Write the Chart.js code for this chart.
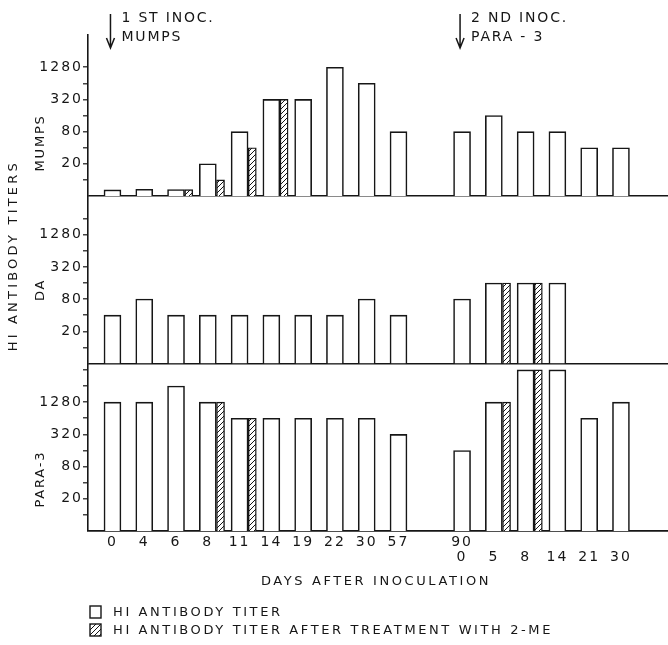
<!DOCTYPE html>
<html>
<head>
<meta charset="utf-8">
<script src="https://cdn.jsdelivr.net/npm/chart.js@4.4.0/dist/chart.umd.min.js"></script>
<style>
  html, body { margin: 0; padding: 0; background: #fff; }
</style>
</head>
<body>
<canvas id="titers" width="668" height="645"></canvas>
<script>
// day labels: first row = days after 1st inoculation, second row = after 2nd
const daysRow1 = ['0', '4', '6', '8', '11', '14', '19', '22', '30', '57', '', '90', '', '', '', '', ''];
const daysRow2 = ['', '', '', '', '', '', '', '', '', '', '', '0', '5', '8', '14', '21', '30'];

// HI antibody titers (null = no bar)
const mumpsTiter    = [6.5, 6.7, 6.6, 20, 80, 320, 320, 1280, 640, 80, null, 80, 160, 80, 80, 40, 40];
const mumpsTiter2ME = [null, null, 6.6, 10, 40, 320, null, null, null, null, null, null, null, null, null, null, null];
const daTiter       = [40, 80, 40, 40, 40, 40, 40, 40, 80, 40, null, 80, 160, 160, 160, null, null];
const daTiter2ME    = [null, null, null, null, null, null, null, null, null, null, null, null, 160, 160, null, null, null];
const paraTiter     = [1280, 1280, 2560, 1280, 640, 640, 640, 640, 640, 320, null, 160, 1280, 5120, 5120, 640, 1280];
const paraTiter2ME  = [null, null, null, 1280, 640, null, null, null, null, null, null, null, 1280, 5120, null, null, null];

const titerTicks = [5, 10, 20, 40, 80, 160, 320, 640, 1280, 2560, 5120];
const titerLabels = [20, 80, 320, 1280];
const panelNames = ['MUMPS', 'DA', 'PARA-3'];

const INK = '#161616';
const FONT = '"DejaVu Sans", sans-serif';
const X_MIN = -0.77, X_MAX = 17.48;
const HATCH_SHIFT = 0.4; // 2-ME bar sits just right of the plain bar

const canvas = document.getElementById('titers');
const ctx = canvas.getContext('2d');

function makeHatch() {
    const tile = document.createElement('canvas');
    tile.width = 5;
    tile.height = 5;
    const g = tile.getContext('2d');
    g.fillStyle = '#fff';
    g.fillRect(0, 0, 5, 5);
    g.strokeStyle = INK;
    g.lineWidth = 1;
    g.beginPath();
    g.moveTo(0, 5); g.lineTo(5, 0);
    g.moveTo(-1, 1); g.lineTo(1, -1);
    g.moveTo(4, 6); g.lineTo(6, 4);
    g.stroke();
    return ctx.createPattern(tile, 'repeat');
}
const hatch = makeHatch();

function plainBars(data, yAxisID) {
    return {
        data, yAxisID, xAxisID: 'x',
        backgroundColor: '#fff', borderColor: INK, borderWidth: 1.6,
        barThickness: 17, grouped: false,
    };
}

function hatchBars(data, yAxisID) {
    return {
        data, yAxisID, xAxisID: 'x2',
        backgroundColor: hatch, borderColor: INK, borderWidth: 1.4,
        barThickness: 8, grouped: false,
    };
}

function titerAxis(max, weight, topTick) {
    return {
        type: 'logarithmic',
        position: 'left',
        stack: 'panels',
        stackWeight: weight,
        min: 5,
        max: max,
        afterBuildTicks: (s) => {
            s.ticks = titerTicks.filter(v => v <= topTick).map(v => ({ value: v }));
        },
        afterFit: (s) => { s.width = 88; },
        border: { display: true, color: INK, width: 1.6 },
        grid: {
            color: (c) => (c.tick && c.tick.value === 5 ? INK : 'rgba(0,0,0,0)'),
            lineWidth: 1.6,
            tickColor: (c) => (c.tick && c.tick.value === 5 ? 'rgba(0,0,0,0)' : INK),
            tickLength: 5,
            tickWidth: 1.2,
        },
        ticks: {
            autoSkip: false,
            padding: 0,
            color: INK,
            font: { family: FONT, size: 14 },
            callback: (v) => (titerLabels.includes(v) ? String(v) : ''),
        },
    };
}

// panel names, axis titles, inoculation arrows and the key
const annotations = {
    id: 'annotations',
    beforeLayout(chart) { chart.ctx.letterSpacing = '2px'; },
    beforeDraw(chart) { chart.ctx.letterSpacing = '2px'; },
    afterDraw(chart) {
        const c = chart.ctx;
        const { scales, chartArea } = chart;
        c.save();
        c.fillStyle = INK;
        c.strokeStyle = INK;
        c.font = '13px ' + FONT;
        c.textBaseline = 'middle';

        const rotated = (text, x, y) => {
            c.save();
            c.translate(x, y);
            c.rotate(-Math.PI / 2);
            c.textAlign = 'center';
            c.fillText(text, 0, 0);
            c.restore();
        };

        c.letterSpacing = '1.8px';
        const panelAxes = [scales.yMumps, scales.yDA, scales.yPara];
        const panelSpot = [0.67, 0.56, 0.69];
        panelAxes.forEach((ax, i) => {
            rotated(panelNames[i], 41, ax.top + (ax.bottom - ax.top) * panelSpot[i]);
        });
        c.letterSpacing = '3.2px';
        rotated('HI ANTIBODY TITERS', 14, chartArea.top + chartArea.height * 0.445);

        c.letterSpacing = '2.6px';
        c.textAlign = 'center';
        c.fillText('DAYS AFTER INOCULATION', (chartArea.left + chartArea.right) / 2 - 2, 582);

        // inoculation arrows
        c.font = '14px ' + FONT;
        c.letterSpacing = '1.8px';
        c.lineWidth = 1.5;
        const inoc = [
            { at: 0, lines: ['1 ST INOC.', 'MUMPS'] },
            { at: 11, lines: ['2 ND INOC.', 'PARA - 3'] },
        ];
        inoc.forEach(({ at, lines }) => {
            const x = scales.x.getPixelForValue(at) - 2;
            c.beginPath();
            c.moveTo(x, 14);
            c.lineTo(x, 47);
            c.moveTo(x - 4, 38);
            c.lineTo(x, 48);
            c.lineTo(x + 4, 38);
            c.stroke();
            c.textAlign = 'left';
            c.fillText(lines[0], x + 11, 18);
            c.fillText(lines[1], x + 11, 37);
        });

        // key
        c.font = '13px ' + FONT;
        c.letterSpacing = '2.6px';
        const keys = [
            { fill: '#fff', text: 'HI ANTIBODY TITER' },
            { fill: hatch, text: 'HI ANTIBODY TITER AFTER TREATMENT WITH 2-ME' },
        ];
        keys.forEach((k, i) => {
            const y = 612 + i * 18;
            c.fillStyle = k.fill;
            c.fillRect(90, y - 6, 11, 12);
            c.lineWidth = 1.4;
            c.strokeRect(90, y - 6, 11, 12);
            c.fillStyle = INK;
            c.textAlign = 'left';
            c.fillText(k.text, 113, y + 1);
        });
        c.restore();
    },
};

new Chart(ctx, {
    type: 'bar',
    data: {
        labels: daysRow1.map((_, i) => i),
        datasets: [
            plainBars(mumpsTiter, 'yMumps'),
            hatchBars(mumpsTiter2ME, 'yMumps'),
            plainBars(daTiter, 'yDA'),
            hatchBars(daTiter2ME, 'yDA'),
            plainBars(paraTiter, 'yPara'),
            hatchBars(paraTiter2ME, 'yPara'),
        ],
    },
    plugins: [annotations],
    options: {
        responsive: false,
        animation: false,
        layout: { padding: { top: 35, left: 0, right: 0, bottom: 0 } },
        plugins: {
            legend: { display: false },
            tooltip: { enabled: false },
        },
        scales: {
            x: {
                type: 'linear',
                offset: false,
                min: X_MIN,
                max: X_MAX,
                afterBuildTicks: (s) => {
                    s.ticks = daysRow1.map((_, i) => ({ value: i }));
                },
                afterFit: (s) => { s.height = 114; },
                border: { display: true, color: INK, width: 1.6 },
                grid: { display: false, drawTicks: false },
                ticks: {
                    autoSkip: false,
                    maxRotation: 0,
                    padding: 4,
                    color: INK,
                    font: { family: FONT, size: 14, lineHeight: 1.07 },
                    callback: (v) => [daysRow1[v], daysRow2[v]],
                },
            },
            x2: {
                type: 'linear',
                display: false,
                offset: false,
                min: X_MIN - HATCH_SHIFT,
                max: X_MAX - HATCH_SHIFT,
            },
            // stacked panels are placed bottom-up in the order listed
            yPara: titerAxis(6750, 10.4, 5120),
            yDA: titerAxis(6750, 10.4, 2560),
            yMumps: titerAxis(5120, 10, 1280),
        },
    },
});
</script>
</body>
</html>
